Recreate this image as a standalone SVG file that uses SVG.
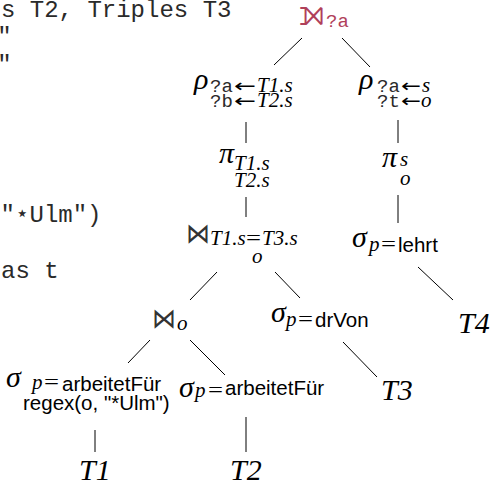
<svg xmlns="http://www.w3.org/2000/svg" width="490" height="483" viewBox="0 0 490 483">
<style>
.bg{fill:#fff}
.code{font-family:"Liberation Mono","DejaVu Sans Mono",monospace;font-size:24px;fill:#2a2a2a}
.m{font-family:"Liberation Serif","DejaVu Serif",serif;font-style:italic;font-size:30px;fill:#000}
.big{font-family:"Liberation Serif","DejaVu Serif",serif;font-style:italic;font-size:30px;fill:#000}
.sub{font-family:"Liberation Serif","DejaVu Serif",serif;font-style:italic;font-size:21px;fill:#000}
.rm{font-family:"Liberation Serif","DejaVu Serif",serif;font-style:normal;font-size:21px;fill:#000}
.arr{font-family:"DejaVu Sans",sans-serif;font-size:18px;fill:#000}
.sf{font-family:"Liberation Sans",Arial,sans-serif;font-size:20.5px;fill:#000}
.tt{font-family:"Liberation Mono","DejaVu Sans Mono",monospace;font-size:19px;fill:#2a2a2a}
.bow{font-family:"DejaVu Sans",sans-serif;font-size:28px;fill:#333}
.ojoin{font-family:"DejaVu Sans",sans-serif;font-size:36px}
.red{fill:#b0405a}
.edge{stroke:#000;stroke-width:1;fill:none}
</style>
<rect class="bg" x="0" y="0" width="490" height="483"/>
<g id="code">
<text class="code" x="1" y="17">s T2, Triples T3</text>
<text class="code" x="-2.7" y="44">"</text>
<text class="code" x="-2.7" y="72">"</text>
<text class="code" y="222"><tspan x="0.5">"</tspan><tspan x="15">⋆</tspan><tspan x="29.5">Ulm")</tspan></text>
<text class="code" x="1" y="278">as t</text>
</g>
<g id="connectors">
<line class="edge" x1="302" y1="38" x2="274" y2="65"/>
<line class="edge" x1="342" y1="38" x2="370" y2="67"/>
<line class="edge" x1="246" y1="122" x2="246" y2="143"/>
<line class="edge" x1="398" y1="120" x2="398" y2="143"/>
<line class="edge" x1="246" y1="197" x2="246" y2="217"/>
<line class="edge" x1="398" y1="195" x2="398" y2="223"/>
<line class="edge" x1="217" y1="272" x2="190" y2="300"/>
<line class="edge" x1="275" y1="272" x2="300" y2="298"/>
<line class="edge" x1="418" y1="267" x2="453" y2="300"/>
<line class="edge" x1="150" y1="340" x2="128" y2="363"/>
<line class="edge" x1="190" y1="340" x2="225" y2="375"/>
<line class="edge" x1="343" y1="342" x2="377" y2="377"/>
<line class="edge" x1="95" y1="430" x2="95" y2="452"/>
<line class="edge" x1="246" y1="417" x2="246" y2="452"/>
</g>
<g id="n-outerjoin">
<text class="ojoin red" x="299" y="25" textLength="25" lengthAdjust="spacingAndGlyphs">⟕</text>
<text class="tt red" x="326" y="27">?a</text>
</g>
<g id="n-rho1">
<text class="m" x="194" y="89">ρ</text>
<text class="tt" x="210" y="92">?a</text><text class="arr" x="234" y="92" textLength="22" lengthAdjust="spacingAndGlyphs">←</text><text class="sub" x="257" y="92">T1.s</text>
<text class="tt" x="210" y="107">?b</text><text class="arr" x="234" y="107" textLength="22" lengthAdjust="spacingAndGlyphs">←</text><text class="sub" x="257" y="107">T2.s</text>
</g>
<g id="n-rho2">
<text class="m" x="359" y="89">ρ</text>
<text class="tt" x="377" y="92">?a</text><text class="arr" x="401" y="92" textLength="20" lengthAdjust="spacingAndGlyphs">←</text><text class="sub" x="422" y="92">s</text>
<text class="tt" x="377" y="107">?t</text><text class="arr" x="401" y="107" textLength="20" lengthAdjust="spacingAndGlyphs">←</text><text class="sub" x="421" y="107">o</text>
</g>
<g id="n-pi1">
<text class="m" x="219" y="163">π</text>
<text class="sub" x="234" y="170">T1.s</text>
<text class="sub" x="234" y="187">T2.s</text>
</g>
<g id="n-pi2">
<text class="m" x="382" y="167">π</text>
<text class="sub" x="400" y="166">s</text>
<text class="sub" x="400" y="185">o</text>
</g>
<g id="n-join1">
<text class="bow" x="186" y="243" textLength="24" lengthAdjust="spacingAndGlyphs">⋈</text>
<text class="sub" x="210" y="245">T1.s</text><text class="rm" x="246" y="245" textLength="15" lengthAdjust="spacingAndGlyphs">=</text><text class="sub" x="262" y="245">T3.s</text>
<text class="sub" x="252" y="263">o</text>
</g>
<g id="n-sel-lehrt">
<text class="m" x="352" y="247">σ</text>
<text class="sub" x="369" y="251">p</text><text class="rm" x="381" y="251" textLength="15" lengthAdjust="spacingAndGlyphs">=</text>
<text class="sf" x="398" y="252">lehrt</text>
</g>
<g id="n-join2">
<text class="bow" x="152" y="328" textLength="24" lengthAdjust="spacingAndGlyphs">⋈</text>
<text class="sub" x="177" y="330">o</text>
</g>
<g id="n-sel-drvon">
<text class="m" x="271" y="322">σ</text>
<text class="sub" x="286" y="326">p</text><text class="rm" x="298" y="326" textLength="15" lengthAdjust="spacingAndGlyphs">=</text>
<text class="sf" x="315" y="327">drVon</text>
</g>
<g id="n-sel-af1">
<text class="m" x="6" y="387">σ</text>
<text class="sub" x="32" y="389">p</text><text class="rm" x="44" y="389" textLength="15" lengthAdjust="spacingAndGlyphs">=</text>
<text class="sf" x="62" y="391">arbeitetFür</text>
<text class="sf" x="23" y="410">regex(o, "*Ulm")</text>
</g>
<g id="n-sel-af2">
<text class="m" x="179" y="397">σ</text>
<text class="sub" x="195" y="397">p</text><text class="rm" x="208" y="397" textLength="15" lengthAdjust="spacingAndGlyphs">=</text>
<text class="sf" x="225" y="395">arbeitetFür</text>
</g>
<g id="n-T1"><text class="big" x="79" y="480">T1</text></g>
<g id="n-T2"><text class="big" x="230" y="480">T2</text></g>
<g id="n-T3"><text class="big" x="381" y="400">T3</text></g>
<g id="n-T4"><text class="big" x="458" y="333">T4</text></g>
</svg>
